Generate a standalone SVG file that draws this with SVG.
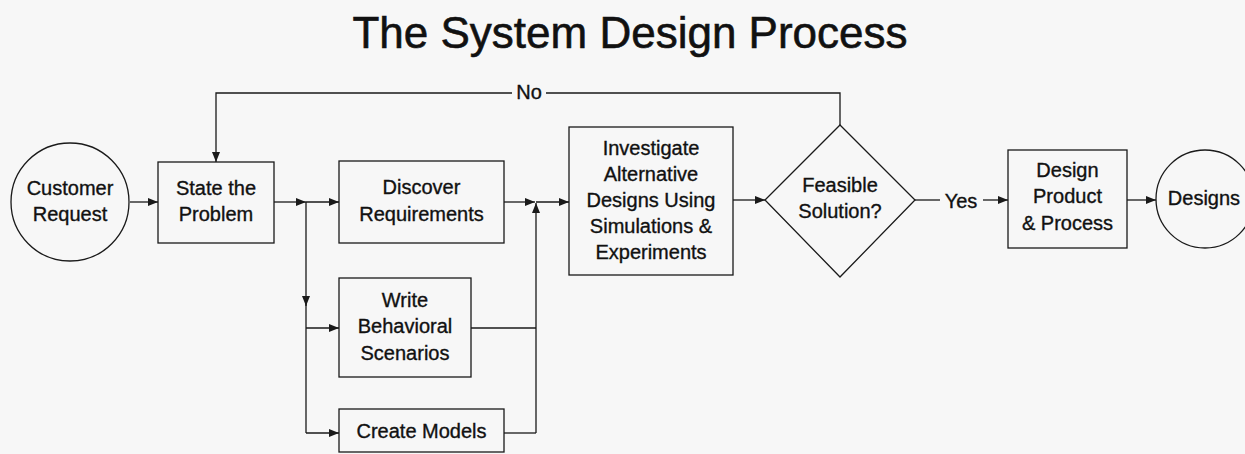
<svg xmlns="http://www.w3.org/2000/svg" width="1245" height="454" viewBox="0 0 1245 454">
  <defs>
    <marker id="arrow" viewBox="0 0 10 8" refX="10" refY="4" markerWidth="10" markerHeight="8" markerUnits="userSpaceOnUse" orient="auto">
      <path d="M0,0 L10,4 L0,8 Z" fill="#1a1a1a"/>
    </marker>
    <style>
      .shape { fill: none; stroke: #1a1a1a; stroke-width: 1.3; }
      .wire { fill: none; stroke: #1a1a1a; stroke-width: 1.3; }
      .arr { marker-end: url(#arrow); }
      .label { font-family: "Liberation Sans", Arial, sans-serif; font-size: 20px; fill: #111; stroke: #111; stroke-width: 0.35; text-anchor: middle; }
      .title { font-family: "Liberation Sans", Arial, sans-serif; font-size: 44px; fill: #111; stroke: #111; stroke-width: 0.6; text-anchor: middle; }
    </style>
  </defs>

  <rect x="0" y="0" width="1245" height="454" fill="#f7f7f7"/>

  <text class="title" x="630" y="48">The System Design Process</text>

  <!-- connectors -->
  <g id="connectors">
    <!-- customer request into problem statement -->
    <path class="wire arr" d="M130,202 H158"/>
    <!-- "No" feedback loop -->
    <path class="wire" d="M840,125 V93 H546"/>
    <path class="wire arr" d="M512,93 H216 V162"/>
    <text class="label" x="529" y="99">No</text>
    <!-- fan-out from the problem statement -->
    <path class="wire arr" d="M274,202 H306"/>
    <path class="wire arr" d="M306,202 H339"/>
    <path class="wire arr" d="M306,202 V306"/>
    <path class="wire" d="M306,300 V433"/>
    <path class="wire arr" d="M306,328 H339"/>
    <path class="wire arr" d="M306,433 H339"/>
    <!-- fan-in toward investigation -->
    <path class="wire arr" d="M504,202 H535"/>
    <path class="wire" d="M471,328 H536"/>
    <path class="wire" d="M504,433 H536"/>
    <path class="wire arr" d="M536,433 V203"/>
    <path class="wire arr" d="M536,202 H569"/>
    <!-- investigation to decision -->
    <path class="wire arr" d="M733,200 H765"/>
    <!-- "Yes" branch -->
    <path class="wire" d="M915,200 H940"/>
    <text class="label" x="961" y="208">Yes</text>
    <path class="wire arr" d="M983,200 H1008"/>
    <!-- product design to final designs -->
    <path class="wire arr" d="M1127,200 H1156"/>
  </g>

  <g id="customer-request">
    <circle class="shape" cx="70" cy="202" r="59"/>
    <text class="label" x="70" y="195">Customer</text>
    <text class="label" x="70" y="221">Request</text>
  </g>

  <g id="state-problem">
    <rect class="shape" x="158" y="162" width="116" height="81"/>
    <text class="label" x="216" y="195">State the</text>
    <text class="label" x="216" y="221">Problem</text>
  </g>

  <g id="discover-requirements">
    <rect class="shape" x="339" y="161" width="165" height="82"/>
    <text class="label" x="421.5" y="194">Discover</text>
    <text class="label" x="421.5" y="221">Requirements</text>
  </g>

  <g id="write-scenarios">
    <rect class="shape" x="339" y="278" width="132" height="99"/>
    <text class="label" x="405" y="307">Write</text>
    <text class="label" x="405" y="333">Behavioral</text>
    <text class="label" x="405" y="360">Scenarios</text>
  </g>

  <g id="create-models">
    <rect class="shape" x="339" y="409" width="165" height="43"/>
    <text class="label" x="421.5" y="438">Create Models</text>
  </g>

  <g id="investigate">
    <rect class="shape" x="569" y="127" width="164" height="148"/>
    <text class="label" x="651" y="155">Investigate</text>
    <text class="label" x="651" y="181">Alternative</text>
    <text class="label" x="651" y="207">Designs Using</text>
    <text class="label" x="651" y="233">Simulations &amp;</text>
    <text class="label" x="651" y="259">Experiments</text>
  </g>

  <g id="feasible">
    <polygon class="shape" points="840,125 915,200 840,277 765,200"/>
    <text class="label" x="840" y="192">Feasible</text>
    <text class="label" x="840" y="218">Solution?</text>
  </g>

  <g id="design-product">
    <rect class="shape" x="1008" y="150" width="119" height="98"/>
    <text class="label" x="1067.5" y="177">Design</text>
    <text class="label" x="1067.5" y="203">Product</text>
    <text class="label" x="1067.5" y="230">&amp; Process</text>
  </g>

  <g id="designs">
    <circle class="shape" cx="1205" cy="199" r="49"/>
    <text class="label" x="1204" y="205">Designs</text>
  </g>
</svg>
